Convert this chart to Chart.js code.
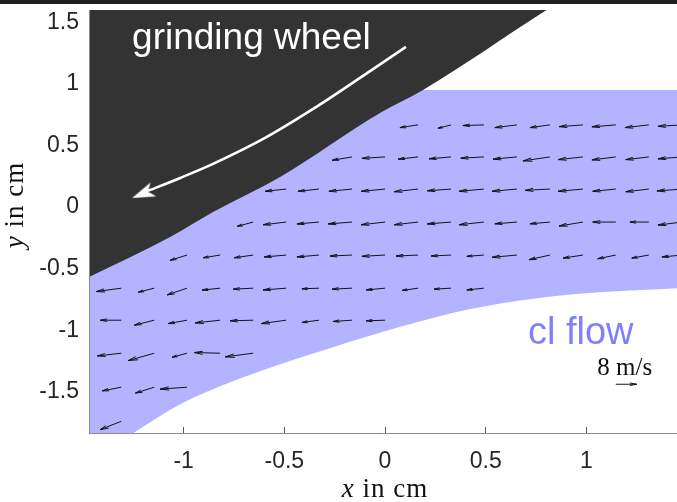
<!DOCTYPE html>
<html>
<head>
<meta charset="utf-8">
<script src="https://cdn.jsdelivr.net/npm/chart.js@4.4.1/dist/chart.umd.min.js"></script>
<style>
  html, body { margin: 0; padding: 0; background: #fff; }
  #wrap { position: relative; width: 677px; height: 502px; }
  #topStrip { position: absolute; left: 0; top: 0; width: 677px; height: 4px; background: #1e1e1e; }
</style>
</head>
<body>
<div id="wrap">
  <canvas id="flowChart"></canvas>
  <div id="topStrip"></div>
</div>
<script>
// axis ticks (cm)
const xTicks = [-1, -0.5, 0, 0.5, 1];
const yTicks = [-1.5, -1, -0.5, 0, 0.5, 1, 1.5];

// grinding wheel edge (cm)
const wheelX = [-1.47, -1.067, -0.854, -0.521, -0.025, 0.189, 0.804, 0.95, 1.45];
const wheelY = [-0.569, -0.244, -0.041, 0.244, 0.764, 0.951, 1.602, 1.75, 1.75];

// coolant flow region: top edge and bottom edge (cm)
const flowTopX = [-1.47, 1.45];
const flowTopY = [0.951, 0.951];
const flowBotX = [-1.47, -1.251, -1.017, -0.769, -0.521, -0.273, 0.089, 0.422, 0.754, 1.082, 1.45];
const flowBotY = [-2.06, -1.837, -1.602, -1.423, -1.276, -1.146, -0.967, -0.829, -0.740, -0.691, -0.659];

// rotation arrow of the wheel (cm)
const rotX = [0.104, -0.124, -0.357, -0.605, -0.854, -1.017, -1.191];
const rotY = [1.301, 1.049, 0.797, 0.553, 0.350, 0.236, 0.122];
const rotTip = { x: -1.256, y: 0.073 };

// quiver grid (cm) and velocities (m/s)
const colX = [-1.31, -1.146, -0.983, -0.819, -0.655, -0.491, -0.328, -0.164, 0,
              0.164, 0.328, 0.491, 0.655, 0.819, 0.983, 1.146, 1.31, 1.474];
const rowY = [0.667, 0.407, 0.146, -0.122, -0.390, -0.659, -0.919, -1.187, -1.463, -1.740];
const rowFirstCol = [9, 7, 5, 4, 2, 0, 0, 0, 0, 0];
const uRows = [
  [-6.9, -5.0, -8.0, -8.4, -7.6, -9.1, -9.1, -9.1, -9.1],
  [-7.6, -8.8, -7.6, -8.4, -8.8, -9.1, -10.3, -9.5, -9.1, -8.8, -9.1],
  [-8.0, -8.0, -8.8, -9.1, -9.1, -9.1, -9.5, -9.5, -9.5, -9.5, -8.8, -8.8, -9.5],
  [-6.1, -8.8, -8.4, -9.1, -9.1, -9.1, -9.1, -9.5, -8.4, -7.6, -9.1, -8.8, -7.2, -9.1],
  [-6.5, -6.5, -7.2, -8.4, -8.4, -8.4, -8.8, -8.4, -7.6, -6.5, -9.5, -8.0, -7.6, -6.9, -6.5, -7.6],
  [-9.5, -6.1, -7.6, -6.9, -7.6, -8.8, -6.5, -7.6, -7.2, -6.1, -6.5, -6.5],
  [-8.0, -7.6, -7.2, -9.5, -8.8, -9.5, -6.5, -7.2, -7.2],
  [-9.1, -9.9, -5.7, -9.9, -10.7],
  [-7.2, -7.2, -10.3],
  [-8.0]
];
const vRows = [
  [-1.7, -2.1, -0.4, -1.7, -1.7, -1.1, -1.2, -1.7, -0.9],
  [-2.1, -0.9, -1.4, -1.2, -0.8, -1.4, -2.5, -1.7, -1.9, -1.7, -1.2],
  [-1.4, -1.4, -1.4, -1.4, -1.7, -1.1, -1.4, -1.4, -0.8, -1.4, -1.4, -1.7, -1.2],
  [-2.7, -1.7, -1.2, -1.2, -1.7, -1.7, -1.2, -1.7, -1.1, -1.1, -2.5, 0, 0, -1.9],
  [-3.3, -1.7, -1.7, -1.2, -1.2, -0.6, -0.8, -0.6, -0.6, -0.8, -1.4, -2.9, -1.9, -2.3, -1.9, -1.2],
  [-2.1, -2.5, -4.2, -1.2, -0.6, -1.1, -0.4, -0.6, -1.1, -1.4, -0.6, -1.1],
  [0, -3.1, -2.1, -1.7, -0.4, -2.1, -1.4, -0.8, -0.4],
  [-1.7, -4.6, -2.5, 0.4, -2.3],
  [-2.3, -3.7, -1.2],
  [-5.2]
];

// reference arrow: 8 m/s
const keyPos = { x: 1.146, y: -1.439 };
const keySpeed = 8;

const quiverScale = 0.01303; // cm per m/s
const headAlpha = 0.33, headBeta = 0.3;

function toPoints(xs, ys) {
  return xs.map((x, i) => ({ x: x, y: ys[i] }));
}

// quiver-style arrow: shaft plus two barbs, gaps between pieces
function arrowPoints(x, y, u, v, out) {
  const du = u * quiverScale, dv = v * quiverScale;
  const tx = x + du, ty = y + dv;
  out.push({ x: x, y: y }, { x: tx, y: ty },
           { x: tx - headAlpha * (du + headBeta * dv), y: ty - headAlpha * (dv - headBeta * du) },
           { x: tx, y: null },
           { x: tx - headAlpha * (du - headBeta * dv), y: ty - headAlpha * (dv + headBeta * du) },
           { x: tx, y: ty },
           { x: tx, y: null });
}

const quiverData = [];
rowY.forEach((y, r) => {
  uRows[r].forEach((u, i) => {
    arrowPoints(colX[rowFirstCol[r] + i], y, u, vRows[r][i], quiverData);
  });
});
const keyData = [];
arrowPoints(keyPos.x, keyPos.y, keySpeed, 0, keyData);

// white notched arrow head, tip at image centre, pointing right
const headImg = document.createElement('canvas');
headImg.width = 60; headImg.height = 60;
(function () {
  const c = headImg.getContext('2d');
  c.fillStyle = '#ffffff';
  c.beginPath();
  c.moveTo(30, 30);
  c.lineTo(7, 22.5);
  c.lineTo(13, 30);
  c.lineTo(7, 37.5);
  c.closePath();
  c.fill();
})();

Chart.defaults.font.family = '"Liberation Sans"';

const textPlugin = {
  id: 'flowText',
  afterDatasetsDraw(chart) {
    const ctx = chart.ctx;
    const xs = chart.scales.x, ys = chart.scales.y;
    ctx.save();
    ctx.textBaseline = 'alphabetic';
    ctx.textAlign = 'left';
    ctx.font = '37px "Liberation Sans"';
    ctx.fillStyle = '#ffffff';
    ctx.fillText('grinding wheel', xs.getPixelForValue(-1.256), ys.getPixelForValue(1.28));
    ctx.font = '38px "Liberation Sans"';
    ctx.fillStyle = '#8080ff';
    ctx.fillText('cl flow', xs.getPixelForValue(0.71), ys.getPixelForValue(-1.114));
    ctx.fillStyle = '#111111';
    ctx.font = '25px "Liberation Serif"';
    ctx.fillText('8 m/s', xs.getPixelForValue(1.054), ys.getPixelForValue(-1.366));
    ctx.restore();
  },
  afterDraw(chart) {
    const ctx = chart.ctx;
    ctx.save();
    ctx.fillStyle = '#111111';
    ctx.textBaseline = 'alphabetic';
    ctx.letterSpacing = '1px';
    const drawTitle = (v, cx, cy) => {
      ctx.font = 'italic 27px "Liberation Serif"';
      const w1 = ctx.measureText(v).width;
      ctx.font = '27px "Liberation Serif"';
      const w2 = ctx.measureText(' in cm').width;
      const left = cx - (w1 + w2) / 2;
      ctx.font = 'italic 27px "Liberation Serif"';
      ctx.fillText(v, left, cy);
      ctx.font = '27px "Liberation Serif"';
      ctx.fillText(' in cm', left + w1, cy);
    };
    drawTitle('x', chart.scales.x.getPixelForValue(0), 497);
    ctx.translate(23, 205);
    ctx.rotate(-Math.PI / 2);
    drawTitle('y', 0, 0);
    ctx.restore();
  }
};

const ctx = document.getElementById('flowChart').getContext('2d');
const chart = new Chart(ctx, {
  type: 'line',
  data: {
    datasets: [
      {
        // coolant flow, filled down to the bottom edge
        data: toPoints(flowTopX, flowTopY),
        fill: '+1',
        backgroundColor: '#b3b3ff',
        borderColor: 'transparent',
        borderWidth: 0,
        pointRadius: 0,
        order: 6
      },
      {
        data: toPoints(flowBotX, flowBotY),
        fill: false,
        borderColor: 'transparent',
        borderWidth: 0,
        pointRadius: 0,
        cubicInterpolationMode: 'monotone',
        order: 7
      },
      {
        // velocity vectors
        data: quiverData,
        borderColor: '#141414',
        borderWidth: 1,
        pointRadius: 0,
        spanGaps: false,
        tension: 0,
        order: 4
      },
      {
        data: keyData,
        borderColor: '#141414',
        borderWidth: 1,
        pointRadius: 0,
        spanGaps: false,
        tension: 0,
        order: 4
      },
      {
        // grinding wheel
        data: toPoints(wheelX, wheelY),
        fill: 'end',
        backgroundColor: '#333333',
        borderColor: 'transparent',
        borderWidth: 0,
        pointRadius: 0,
        cubicInterpolationMode: 'monotone',
        order: 3
      },
      {
        // rotation direction
        data: toPoints(rotX, rotY),
        borderColor: '#ffffff',
        borderWidth: 2.6,
        pointRadius: 0,
        tension: 0.3,
        order: 2
      },
      {
        data: [rotTip],
        showLine: false,
        pointStyle: headImg,
        pointRadius: 6,
        pointRotation: 158,
        order: 1
      }
    ]
  },
  options: {
    responsive: true,
    maintainAspectRatio: false,
    animation: false,
    events: [],
    layout: { autoPadding: false, padding: { top: 10, right: 0, left: 0, bottom: 0 } },
    plugins: {
      legend: { display: false },
      tooltip: { enabled: false }
    },
    scales: {
      x: {
        type: 'linear',
        min: -1.47,
        max: 1.45,
        afterBuildTicks: s => { s.ticks = xTicks.map(v => ({ value: v })); },
        afterFit: s => { s.height = 69; s.paddingLeft = 0; s.paddingRight = 0; },
        grid: { drawOnChartArea: false, tickLength: -6, tickColor: '#555555' },
        border: { color: '#8c8c8c', width: 1, z: 1 },
        ticks: {
          color: '#262626',
          font: { size: 23 },
          padding: 21,
          maxRotation: 0,
          callback: v => String(v)
        }
      },
      y: {
        type: 'linear',
        min: -1.835,
        max: 1.6,
        afterBuildTicks: s => { s.ticks = yTicks.map(v => ({ value: v })); },
        afterFit: s => { s.width = 89; s.paddingTop = 0; s.paddingBottom = 0; },
        grid: { drawOnChartArea: false, tickLength: -6, tickColor: '#555555' },
        border: { color: '#8c8c8c', width: 1, z: 1 },
        ticks: {
          color: '#262626',
          font: { size: 23 },
          padding: 16,
          callback: v => String(v)
        }
      }
    }
  },
  plugins: [textPlugin]
});
</script>
</body>
</html>
